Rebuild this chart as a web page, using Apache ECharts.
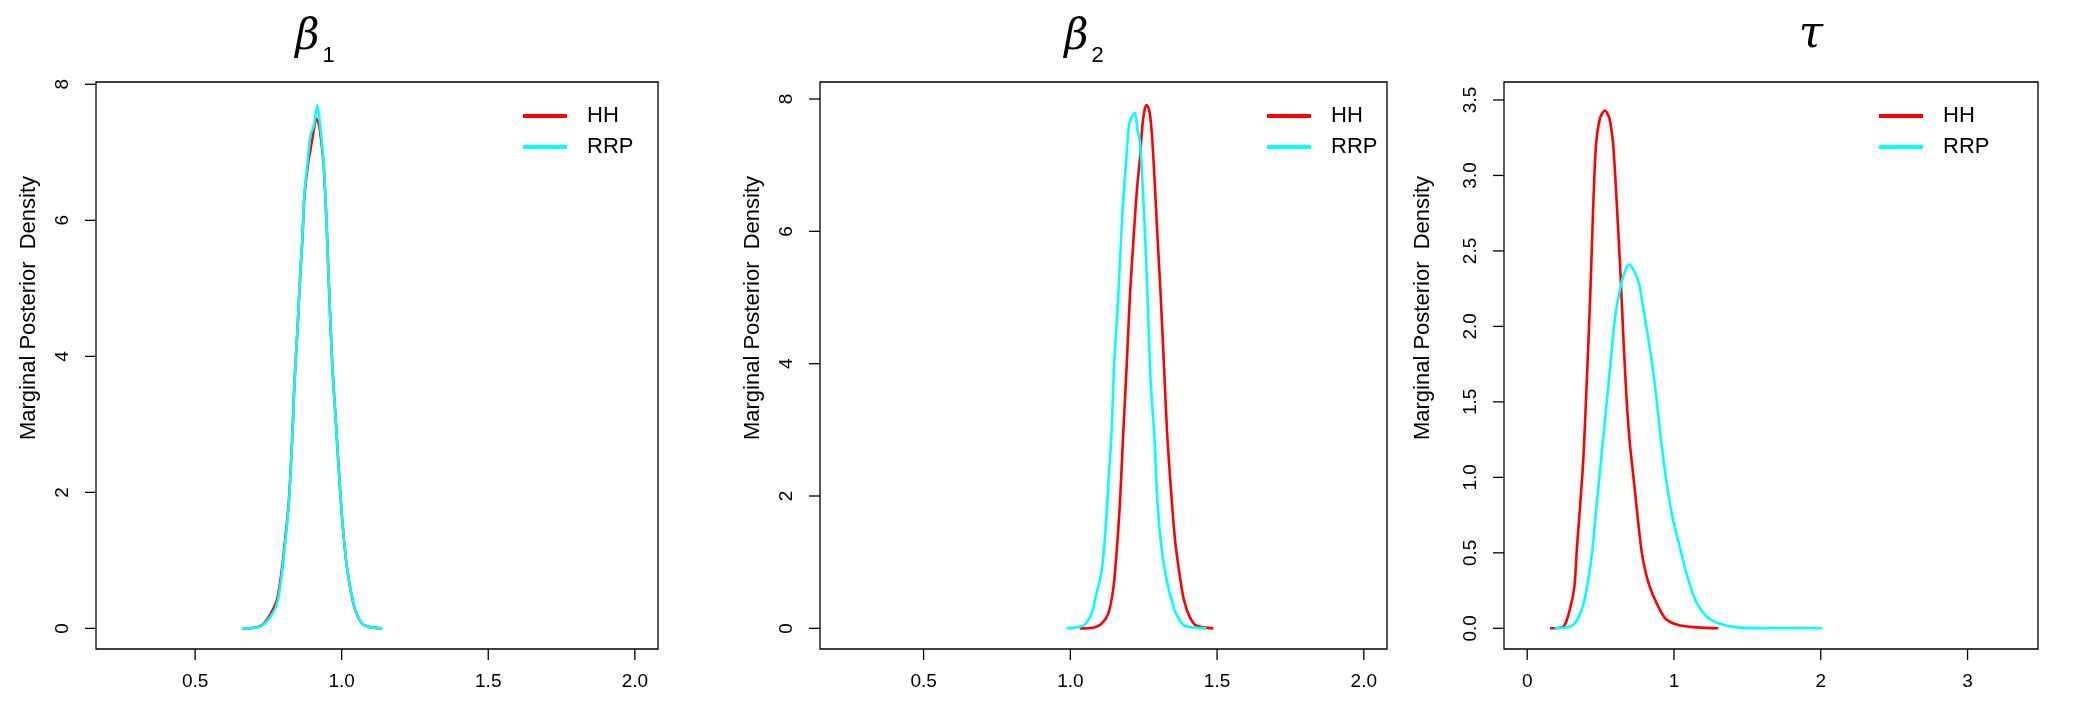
<!DOCTYPE html>
<html>
<head>
<meta charset="utf-8">
<title>Marginal posterior densities</title>
<script src="https://cdn.jsdelivr.net/npm/echarts@6/dist/echarts.min.js"></script>
<style>
  html, body { margin: 0; padding: 0; background: #fff; }
  #main { width: 2094px; height: 718px; }
</style>
</head>
<body>
<div id="main"></div>
<script type="text/javascript">
// values, [x, density]
var b1HH = [[0.661,0],[0.70,0.01],[0.729,0.05],[0.757,0.21],[0.780,0.43],[0.797,0.9],[0.809,1.38],
  [0.820,1.88],[0.832,2.87],[0.839,3.62],[0.849,4.37],[0.857,5.07],[0.866,5.72],[0.873,6.35],
  [0.885,6.82],[0.894,7.05],[0.905,7.33],[0.913,7.5],[0.922,7.42],[0.930,7.18],[0.939,6.78],
  [0.949,5.90],[0.958,4.88],[0.968,3.87],[0.979,3.11],[0.990,2.35],[1.002,1.59],[1.017,0.93],
  [1.033,0.51],[1.047,0.26],[1.070,0.07],[1.099,0.015],[1.138,0]];
var b1RRP = [[0.661,0],[0.70,0.005],[0.729,0.04],[0.757,0.17],[0.780,0.37],[0.797,0.83],[0.809,1.33],
  [0.820,1.84],[0.832,2.85],[0.839,3.61],[0.849,4.37],[0.857,5.08],[0.866,5.74],[0.873,6.40],
  [0.885,6.91],[0.894,7.26],[0.905,7.39],[0.917,7.69],[0.930,7.26],[0.939,6.81],[0.949,5.90],
  [0.958,4.88],[0.968,3.87],[0.979,3.11],[0.990,2.35],[1.002,1.59],[1.017,0.93],[1.033,0.52],
  [1.047,0.27],[1.070,0.07],[1.099,0.015],[1.138,0]];
var b2HH = [[1.032,0],[1.078,0.01],[1.106,0.07],[1.129,0.22],[1.146,0.59],[1.157,1.11],[1.169,1.89],
  [1.180,2.93],[1.192,3.97],[1.203,5.02],[1.214,5.80],[1.226,6.58],[1.237,7.10],[1.246,7.62],
  [1.254,7.86],[1.260,7.91],[1.269,7.83],[1.277,7.52],[1.285,6.95],[1.296,6.0],[1.308,5.02],
  [1.319,3.97],[1.330,2.93],[1.342,2.15],[1.356,1.37],[1.371,0.85],[1.387,0.43],[1.407,0.17],
  [1.430,0.04],[1.487,0]];
var b2RRP = [[0.987,0],[1.044,0.04],[1.072,0.22],[1.087,0.48],[1.106,0.85],[1.118,1.37],[1.129,2.15],
  [1.140,2.93],[1.149,3.97],[1.160,4.76],[1.169,5.54],[1.178,6.32],[1.189,7.0],[1.200,7.62],
  [1.209,7.73],[1.220,7.79],[1.229,7.52],[1.237,7.36],[1.246,6.74],[1.256,5.80],[1.265,4.76],
  [1.274,3.71],[1.286,2.93],[1.297,1.89],[1.311,1.21],[1.328,0.74],[1.345,0.43],[1.362,0.20],
  [1.390,0.04],[1.464,0]];
var tauHH = [[0.155,0],[0.246,0.01],[0.292,0.13],[0.322,0.28],[0.338,0.52],[0.362,0.83],[0.383,1.13],
  [0.404,1.59],[0.429,2.19],[0.450,2.80],[0.468,3.19],[0.496,3.38],[0.529,3.43],[0.560,3.38],
  [0.587,3.19],[0.611,2.80],[0.636,2.34],[0.657,1.89],[0.677,1.52],[0.698,1.24],[0.724,1.0],
  [0.750,0.76],[0.781,0.50],[0.824,0.31],[0.885,0.16],[0.946,0.06],[1.037,0.02],[1.159,0.006],[1.302,0]];
var tauRRP = [[0.186,0],[0.292,0.01],[0.338,0.05],[0.383,0.16],[0.414,0.31],[0.444,0.52],[0.474,0.83],
  [0.505,1.13],[0.535,1.43],[0.566,1.74],[0.596,2.04],[0.627,2.22],[0.657,2.34],[0.693,2.41],
  [0.733,2.36],[0.763,2.28],[0.794,2.10],[0.830,1.89],[0.861,1.68],[0.891,1.43],[0.915,1.22],
  [0.952,0.95],[0.991,0.73],[1.037,0.55],[1.083,0.37],[1.144,0.19],[1.220,0.08],[1.311,0.03],
  [1.432,0.006],[1.676,0],[2.010,0]];

var legendNames = ['HH', 'RRP'];
var b1XTicks = [0.5, 1.0, 1.5, 2.0];
var tauXTicks = [0, 1, 2, 3];
var betaYTicks = [0, 2, 4, 6, 8];
var tauYTicks = [0, 0.5, 1.0, 1.5, 2.0, 2.5, 3.0, 3.5];

var myChart = echarts.init(document.getElementById('main'));

var font = 'Liberation Sans, Arial, sans-serif';
var TICK = 11;

function xAxisOf(i, min, max, ticks, digits) {
    return {
        type: 'value', gridIndex: i, min: min, max: max,
        splitLine: { show: false },
        axisLine: { show: false, onZero: false },
        axisTick: { show: false },
        axisLabel: { customValues: ticks, margin: 23, color: '#000',
            fontFamily: font, fontSize: 19,
            formatter: function (v) { return v.toFixed(digits); } }
    };
}

function yAxisOf(i, min, max, ticks, digits, gap) {
    return {
        type: 'value', gridIndex: i, min: min, max: max,
        name: 'Marginal Posterior  Density',
        nameLocation: 'middle', nameGap: gap,
        nameTextStyle: { color: '#000', fontFamily: font, fontSize: 22,
            padding: [0, 0, 0, 115] },
        splitLine: { show: false },
        axisLine: { show: false, onZero: false },
        axisTick: { show: false },
        axisLabel: { customValues: ticks, margin: 24, rotate: 90, color: '#000',
            fontFamily: font, fontSize: 19,
            formatter: function (v) { return v.toFixed(digits); } }
    };
}

// tick marks drawn outward from the box, placed with the axis scales
function ticksOf(i, xTicks, yTicks, xInside, yInside) {
    var data = xTicks.map(function (v) { return [v, yInside, 0]; })
        .concat(yTicks.map(function (v) { return [xInside, v, 1]; }));
    return {
        type: 'custom', xAxisIndex: i, yAxisIndex: i, data: data,
        clip: false, silent: true, z: 5,
        renderItem: function (params, api) {
            var cs = params.coordSys;
            var p = api.coord([api.value(0), api.value(1)]);
            var shape;
            if (api.value(2) === 0) {
                var yb = cs.y + cs.height;
                shape = { x1: p[0], y1: yb, x2: p[0], y2: yb + TICK };
            } else {
                shape = { x1: cs.x - TICK, y1: p[1], x2: cs.x, y2: p[1] };
            }
            return { type: 'line', shape: shape, style: { stroke: '#000', lineWidth: 1.3 } };
        }
    };
}

function legendOf(left) {
    return {
        data: legendNames, orient: 'vertical', left: left, top: 100,
        icon: 'rect', itemWidth: 44, itemHeight: 4, itemGap: 9,
        textStyle: { color: '#000', fontFamily: font, fontSize: 22, lineHeight: 22,
            padding: [0, 0, 0, 15] }
    };
}

function lineOf(name, i, data, color) {
    return {
        name: name, type: 'line', xAxisIndex: i, yAxisIndex: i,
        data: data, showSymbol: false, smooth: 0.25,
        lineStyle: { color: color, width: 2.6 },
        itemStyle: { color: color }
    };
}

var titleRich = {
    g: { fontFamily: 'DejaVu Serif', fontStyle: 'italic', fontWeight: 'normal', fontSize: 42, color: '#000' },
    t: { fontFamily: 'DejaVu Serif', fontStyle: 'italic', fontWeight: 'normal', fontSize: 44, color: '#000' },
    s: { fontFamily: font, fontWeight: 'normal', fontSize: 22, color: '#000', verticalAlign: 'bottom', padding: [0, 0, -8, 3] }
};

var option = {
    backgroundColor: '#fff',
    animation: false,
    title: [
        { text: '{g|β}{s|1}', left: 310, top: 12, textAlign: 'center', textStyle: { fontWeight: 'normal', rich: titleRich } },
        { text: '{g|β}{s|2}', left: 1079, top: 12, textAlign: 'center', textStyle: { fontWeight: 'normal', rich: titleRich } },
        { text: '{t|τ}', left: 1806, top: 9, textAlign: 'center', textStyle: { fontWeight: 'normal', rich: titleRich } }
    ],
    legend: [legendOf(518), legendOf(1262), legendOf(1874)],
    grid: [
        { left: 96, top: 82, width: 562, height: 567, show: true, borderColor: '#000', borderWidth: 1.3 },
        { left: 820, top: 82, width: 567, height: 567, show: true, borderColor: '#000', borderWidth: 1.3 },
        { left: 1504, top: 82, width: 534, height: 567, show: true, borderColor: '#000', borderWidth: 1.3 }
    ],
    xAxis: [
        xAxisOf(0, 0.162, 2.079, b1XTicks, 1),
        xAxisOf(1, 0.147, 2.079, b1XTicks, 1),
        xAxisOf(2, -0.158, 3.48, tauXTicks, 0)
    ],
    yAxis: [
        yAxisOf(0, -0.303, 8.034, betaYTicks, 0, 56),
        yAxisOf(1, -0.312, 8.257, betaYTicks, 0, 56),
        yAxisOf(2, -0.137, 3.619, tauYTicks, 1, 70)
    ],
    series: [
        lineOf('HH', 0, b1HH, '#ff0000'),
        lineOf('RRP', 0, b1RRP, '#00ffff'),
        lineOf('HH', 1, b2HH, '#ff0000'),
        lineOf('RRP', 1, b2RRP, '#00ffff'),
        lineOf('HH', 2, tauHH, '#ff0000'),
        lineOf('RRP', 2, tauRRP, '#00ffff'),
        ticksOf(0, b1XTicks, betaYTicks, 1, 1),
        ticksOf(1, b1XTicks, betaYTicks, 1, 1),
        ticksOf(2, tauXTicks, tauYTicks, 1, 1)
    ]
};

myChart.setOption(option);
</script>
</body>
</html>
